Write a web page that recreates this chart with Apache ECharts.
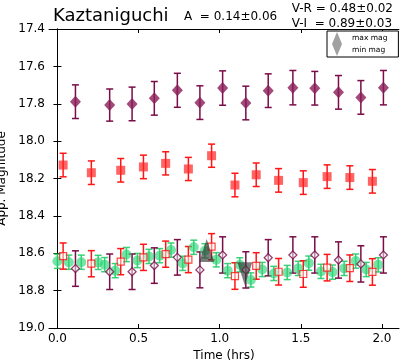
<!DOCTYPE html>
<html><head><meta charset="utf-8">
<script src="https://cdn.jsdelivr.net/npm/echarts@6/dist/echarts.min.js"></script>
<style>html,body{margin:0;padding:0;background:#fff}#c{width:401px;height:362px}</style>
</head><body><div id="c"></div>
<script>
// ---- data ----
const xTicks = [0.0, 0.5, 1.0, 1.5, 2.0];
const yTicks = [17.4, 17.6, 17.8, 18.0, 18.2, 18.4, 18.6, 18.8, 19.0];
const timesPurple = [0.111,0.322,0.46,0.597,0.739,0.878,1.018,1.161,1.299,1.451,1.586,1.732,1.87,2.009];
const timesRed = [0.035,0.209,0.39,0.53,0.667,0.807,0.95,1.094,1.225,1.363,1.515,1.662,1.802,1.941];
const purpleTop = [17.789,17.807,17.801,17.771,17.728,17.794,17.716,17.796,17.73,17.714,17.717,17.739,17.766,17.714];
const purpleTopErr = [0.09,0.086,0.09,0.09,0.091,0.09,0.092,0.09,0.09,0.092,0.09,0.09,0.09,0.092];
const redTop = [18.128,18.169,18.156,18.138,18.119,18.149,18.078,18.235,18.18,18.21,18.222,18.19,18.195,18.215];
const redTopErr = [0.063,0.063,0.063,0.063,0.062,0.062,0.062,0.063,0.063,0.063,0.063,0.063,0.063,0.063];
const purpleBottom = [18.682,18.699,18.699,18.666,18.622,18.689,18.609,18.689,18.624,18.609,18.609,18.636,18.657,18.609];
const purpleBottomErr = [0.095,0.095,0.095,0.095,0.095,0.096,0.097,0.097,0.097,0.097,0.097,0.097,0.097,0.097];
const redBottom = [18.615,18.656,18.645,18.622,18.605,18.634,18.565,18.722,18.668,18.699,18.711,18.677,18.68,18.70];
const redBottomErr = [0.07,0.07,0.07,0.07,0.07,0.07,0.07,0.071,0.071,0.071,0.071,0.071,0.071,0.071];
const timesGreen = [0.000,0.070,0.147,0.251,0.291,0.356,0.425,0.493,0.564,0.630,0.700,0.772,0.840,0.909,0.979,1.049,1.124,1.192,1.262,1.333,1.416,1.484,1.549,1.624,1.695,1.767,1.838,1.903,1.977];
const green = [18.643,18.648,18.648,18.649,18.661,18.693,18.607,18.639,18.617,18.613,18.583,18.654,18.568,18.587,18.635,18.693,18.662,18.743,18.687,18.708,18.703,18.681,18.653,18.697,18.701,18.681,18.642,18.687,18.662];
const greenErr = 0.038;
const maxMag = [[0.92, 18.585]];
const minMag = [[1.155, 18.71]];

// ---- helpers ----
function pts(t, m){ return t.map((v,i)=>[v, m[i]]); }
function errs(t, m, e){ return t.map((v,i)=>{ const d = Array.isArray(e)? e[i] : e; return [v, m[i]-d, m[i]+d]; }); }
function errSeries(data, color, cap, lw){
  return {type:'custom', data:data, encode:{x:0,y:[1,2]}, silent:true,
    renderItem:function(params, api){
      const x=api.value(0), lo=api.value(1), hi=api.value(2);
      const a=api.coord([x,lo]), b=api.coord([x,hi]);
      const st={stroke:color, lineWidth:lw};
      return {type:'group', children:[
        {type:'line', shape:{x1:a[0],y1:a[1],x2:b[0],y2:b[1]}, style:st},
        {type:'line', shape:{x1:a[0]-cap,y1:a[1],x2:a[0]+cap,y2:a[1]}, style:st},
        {type:'line', shape:{x1:b[0]-cap,y1:b[1],x2:b[0]+cap,y2:b[1]}, style:st}
      ]};
    }};
}
const PURPLE='#8a1c58', PURPLE_E='#7a0c48', RED='rgba(255,35,35,0.88)', RED_E='#ff1515', GREEN='rgba(35,212,112,0.78)', GREEN_E='rgba(35,205,105,0.9)';
const downTri='path://M0,0 L10,0 L5,12 Z';
const fmt = v => Number(v).toFixed(1);
const F = 'DejaVu Sans';

const chart = echarts.init(document.getElementById('c'), null, {renderer:'canvas'});
chart.setOption({
  animation:false,
  textStyle:{fontFamily:F},
  title:[
    {text:'Kaztaniguchi', left:48, top:2, textStyle:{fontFamily:F, fontSize:18, fontWeight:'normal', color:'#000'}},
    {text:'A  = 0.14±0.06', left:179, top:6, textStyle:{fontFamily:F, fontSize:12, fontWeight:'normal', color:'#000'}},
    {text:'V-R = 0.48±0.02\nV-I  = 0.89±0.03', right:3, top:-4, textStyle:{fontFamily:F, fontSize:12, fontWeight:'normal', color:'#000', lineHeight:15}}
  ],
  legend:{left:327, top:31, orient:'vertical', itemWidth:10, itemHeight:12, itemGap:0,
    padding:[1,11,1,5], borderColor:'#000', borderWidth:1, backgroundColor:'#fff',
    textStyle:{fontFamily:F, fontSize:7.5, color:'#000', padding:[0,0,0,5]},
    data:[{name:'max mag', icon:'triangle', itemStyle:{color:'#8a8a8a'}},{name:'min mag', icon:downTri, itemStyle:{color:'#8a8a8a'}}]},
  grid:{left:49, top:29, width:350, height:299, containLabel:false, outerBoundsMode:'none'},
  xAxis:[
    {type:'value', min:-0.052, max:2.105, name:'Time (hrs)', nameLocation:'middle', nameGap:20,
     nameTextStyle:{fontFamily:F, fontSize:12, color:'#000'},
     axisLine:{show:true, lineStyle:{color:'#000', width:1}},
     axisTick:{show:true, inside:true, length:4, lineStyle:{color:'#000'}, customValues:xTicks},
     axisLabel:{show:true, color:'#000', fontSize:12, fontFamily:F, margin:5, formatter:fmt, customValues:xTicks},
     splitLine:{show:false}},
    {type:'value', position:'top', min:-0.052, max:2.105,
     axisLine:{show:true, lineStyle:{color:'#000', width:1}},
     axisTick:{show:true, inside:true, length:4, lineStyle:{color:'#000'}, customValues:xTicks},
     axisLabel:{show:false}, splitLine:{show:false}}
  ],
  yAxis:[
    {type:'value', inverse:true, min:17.4, max:19.0, name:'App. Magnitude', nameLocation:'middle', nameGap:35,
     nameTextStyle:{fontFamily:F, fontSize:12, color:'#000'},
     axisLine:{show:true, lineStyle:{color:'#000', width:1}},
     axisTick:{show:true, inside:true, length:4, lineStyle:{color:'#000'}, customValues:yTicks},
     axisLabel:{show:true, color:'#000', fontSize:12, fontFamily:F, margin:4, formatter:fmt, customValues:yTicks},
     splitLine:{show:false}},
    {type:'value', inverse:true, position:'right', min:17.4, max:19.0,
     axisLine:{show:true, lineStyle:{color:'#000', width:1}},
     axisTick:{show:true, inside:true, length:4, lineStyle:{color:'#000'}, customValues:yTicks},
     axisLabel:{show:false}, splitLine:{show:false}}
  ],
  series:[
    errSeries(errs(timesGreen, green, greenErr), GREEN_E, 3.5, 1.5),
    {type:'scatter', name:'green', data:pts(timesGreen, green), symbol:'circle', symbolSize:10, itemStyle:{color:GREEN}},
    {type:'scatter', name:'max mag', data:maxMag, symbol:'triangle', symbolSize:[15,23], z:3, itemStyle:{color:'rgba(55,55,55,0.82)'}},
    {type:'scatter', name:'min mag', data:minMag, symbol:downTri, symbolSize:[15,23], z:3, itemStyle:{color:'rgba(55,55,55,0.82)'}},
    errSeries(errs(timesRed, redTop, redTopErr), RED_E, 3.5, 1.5),
    {type:'scatter', name:'redTop', data:pts(timesRed, redTop), symbol:'rect', symbolSize:9, itemStyle:{color:RED}},
    errSeries(errs(timesRed, redBottom, redBottomErr), RED_E, 3.5, 1.5),
    {type:'scatter', name:'redBottom', data:pts(timesRed, redBottom), symbol:'rect', symbolSize:7, itemStyle:{color:'rgba(255,255,255,0.6)', borderColor:RED_E, borderWidth:1.2}},
    errSeries(errs(timesPurple, purpleTop, purpleTopErr), PURPLE_E, 3.5, 1.5),
    {type:'scatter', name:'purpleTop', data:pts(timesPurple, purpleTop), symbol:'diamond', symbolSize:[11,12], itemStyle:{color:PURPLE}},
    errSeries(errs(timesPurple, purpleBottom, purpleBottomErr), PURPLE_E, 3.5, 1.5),
    {type:'scatter', name:'purpleBottom', data:pts(timesPurple, purpleBottom), symbol:'diamond', symbolSize:[8,8], itemStyle:{color:'rgba(255,255,255,0.6)', borderColor:PURPLE_E, borderWidth:1.3}}
  ]
});
</script></body></html>
